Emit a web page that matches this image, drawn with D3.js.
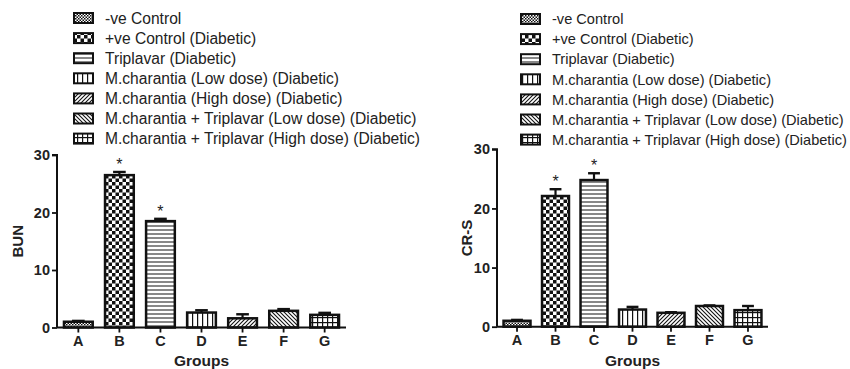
<!DOCTYPE html>
<html><head><meta charset="utf-8">
<script src="https://cdn.jsdelivr.net/npm/d3@7"></script>
<style>
html,body{margin:0;padding:0;background:#fff;}
svg{display:block;font-family:"Liberation Sans",Arial,sans-serif;}
</style></head>
<body><svg id="c" width="850" height="369"></svg>
<script>
const categories = ["A","B","C","D","E","F","G"];
const legendLabels = [
  "-ve Control",
  "+ve Control (Diabetic)",
  "Triplavar (Diabetic)",
  "M.charantia (Low dose) (Diabetic)",
  "M.charantia (High dose) (Diabetic)",
  "M.charantia + Triplavar (Low dose) (Diabetic)",
  "M.charantia + Triplavar (High dose) (Diabetic)"
];
const yTicks = [0,10,20,30];
const bunValues = [1.0, 26.5, 18.5, 2.6, 1.6, 2.9, 2.2];
const bunErrors = [0.15, 0.55, 0.4, 0.4, 0.7, 0.3, 0.35];
const bunStars  = [false, true, true, false, false, false, false];
const crsValues = [1.0, 22.1, 24.8, 2.9, 2.35, 3.5, 2.8];
const crsErrors = [0.15, 1.15, 1.15, 0.45, 0.1, 0.1, 0.7];
const crsStars  = [false, true, true, false, false, false, false];

const svg = d3.select("#c");
const defs = svg.append("defs");
const patIds = ["pA","pB","pC","pD","pE","pF","pG"];
function pat(id, size, draw){
  const p = defs.append("pattern").attr("id", id).attr("patternUnits","userSpaceOnUse")
    .attr("width", size).attr("height", size);
  p.append("rect").attr("width", size).attr("height", size).attr("fill","#fff");
  draw(p, size);
}
pat("pA", 3, (p)=>{ p.append("rect").attr("width",1.5).attr("height",1.5).attr("fill","#111");
  p.append("rect").attr("x",1.5).attr("y",1.5).attr("width",1.5).attr("height",1.5).attr("fill","#111"); });
pat("pB", 7, (p)=>{ p.append("rect").attr("width",3.5).attr("height",3.5).attr("fill","#111");
  p.append("rect").attr("x",3.5).attr("y",3.5).attr("width",3.5).attr("height",3.5).attr("fill","#111"); });
pat("pC", 4, (p)=>{ p.append("rect").attr("y",1.5).attr("width",4).attr("height",1).attr("fill","#111"); });
pat("pD", 5, (p)=>{ p.append("rect").attr("x",2).attr("width",1.2).attr("height",5).attr("fill","#111"); });
pat("pE", 4, (p)=>{ p.append("path").attr("d","M-1,5 L5,-1 M-1,1 L1,-1 M3,5 L5,3").attr("stroke","#111").attr("stroke-width",1.1); });
pat("pF", 4, (p)=>{ p.append("path").attr("d","M-1,-1 L5,5 M3,-1 L5,1 M-1,3 L1,5").attr("stroke","#111").attr("stroke-width",1.1); });
pat("pG", 5, (p)=>{ p.append("rect").attr("x",2).attr("width",1.2).attr("height",5).attr("fill","#111");
  p.append("rect").attr("y",2).attr("width",5).attr("height",1.2).attr("fill","#111"); });

function legend(x0, y0, fs){
  const g = svg.append("g");
  legendLabels.forEach((lab,i)=>{
    const cy = y0 + i*20.1;
    g.append("rect").attr("x",x0).attr("y",cy-5).attr("width",19).attr("height",10)
      .attr("fill",`url(#${patIds[i]})`).attr("stroke","#111").attr("stroke-width",2);
    g.append("text").attr("x",x0+31).attr("y",cy).attr("dy","0.36em")
      .attr("font-size",fs).attr("fill","#222").text(lab);
  });
}

function chart(opts){
  const {x0,x1,yBottom,yTop,values,errors,stars,ylabel,ylabelX} = opts;
  const x = d3.scaleBand().domain(categories).range([x0,x1]).paddingInner(0.3).paddingOuter(0.17);
  const y = d3.scaleLinear().domain([0,30]).range([yBottom,yTop]);
  const g = svg.append("g");
  categories.forEach((c,i)=>{
    const bx = x(c), bw = x.bandwidth();
    g.append("rect").attr("x",bx).attr("y",y(values[i])).attr("width",bw)
      .attr("height",y(0)-y(values[i])).attr("fill",`url(#${patIds[i]})`)
      .attr("stroke","#111").attr("stroke-width",2.5);
    const cx = bx + bw/2;
    const top = y(values[i]+errors[i]);
    g.append("line").attr("x1",cx).attr("x2",cx).attr("y1",y(values[i])).attr("y2",top)
      .attr("stroke","#111").attr("stroke-width",2.2);
    g.append("line").attr("x1",cx-bw*0.22).attr("x2",cx+bw*0.22).attr("y1",top).attr("y2",top)
      .attr("stroke","#111").attr("stroke-width",2.4);
    if(stars[i]){
      g.append("text").attr("x",cx).attr("y",top-2).attr("text-anchor","middle")
        .attr("font-size",16).attr("fill","#222").text("*");
    }
  });
  const ya = g.append("g").attr("transform",`translate(${x0},0)`)
    .call(d3.axisLeft(y).tickValues(yTicks).tickSize(5).tickPadding(2));
  ya.select(".domain").attr("stroke","#111").attr("stroke-width",2).attr("d",`M-5,${yTop}H0V${yBottom}`);
  ya.selectAll(".tick line").attr("stroke","#111").attr("stroke-width",1.8);
  ya.selectAll(".tick text").attr("font-size",14.5).attr("font-weight","bold").attr("fill","#222")
    .attr("font-family","Liberation Sans, Arial, sans-serif");
  const xa = g.append("g").attr("transform",`translate(0,${yBottom})`)
    .call(d3.axisBottom(x).tickSize(5).tickPadding(3));
  xa.select(".domain").attr("stroke","#111").attr("stroke-width",2).attr("d",`M${x0},0H${x1}`);
  xa.selectAll(".tick line").attr("stroke","#111").attr("stroke-width",1.8);
  xa.selectAll(".tick text").attr("font-size",14.5).attr("font-weight","bold").attr("fill","#222")
    .attr("font-family","Liberation Sans, Arial, sans-serif");
  g.append("text").attr("transform",`translate(${ylabelX},${(yTop+yBottom)/2}) rotate(-90)`)
    .attr("text-anchor","middle").attr("dy","0.36em").attr("font-size",15).attr("font-weight","bold")
    .attr("fill","#222").text(ylabel);
  g.append("text").attr("x",(x0+x1)/2).attr("y",366).attr("text-anchor","middle")
    .attr("font-size",15.5).attr("font-weight","bold").attr("fill","#222").text("Groups");
}

legend(74, 18, 15.6);
legend(521, 19, 14.6);
chart({x0:57,x1:346,yBottom:327.5,yTop:155,values:bunValues,errors:bunErrors,stars:bunStars,ylabel:"BUN",ylabelX:18});
chart({x0:497,x1:768,yBottom:326.7,yTop:149.3,values:crsValues,errors:crsErrors,stars:crsStars,ylabel:"CR-S",ylabelX:467});
</script></body></html>
